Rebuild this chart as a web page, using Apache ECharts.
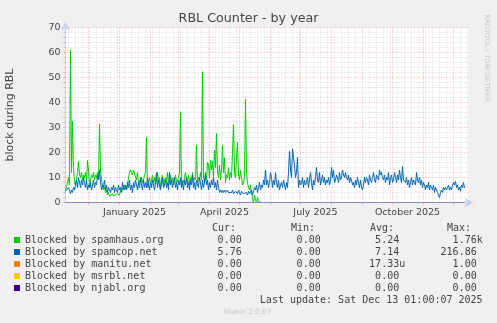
<!DOCTYPE html>
<html><head><meta charset="utf-8">
<script src="https://cdn.jsdelivr.net/npm/echarts@6/dist/echarts.min.js"></script>
<style>html,body{margin:0;padding:0;background:#f0f0f0}#c{width:497px;height:323px}</style>
</head><body><div id="c"></div>
<script>
// ---------- data ----------
const startDate = '2024-11-08';
const dayCount = 404;
const seriesNames = ['Blocked by spamhaus.org','Blocked by spamcop.net','Blocked by manitu.net','Blocked by msrbl.net','Blocked by njabl.org'];
const seriesColors = ['#00CC00','#0066B3','#FF8000','#FFCC00','#330099'];
const tickDates = ['2025-01-16','2025-04-16','2025-07-16','2025-10-16'];
const tickLabels = ['January 2025','April 2025','July 2025','October 2025'];
const yTicks = [0,10,20,30,40,50,60,70];
const statHeaders = ['Cur:','Min:','Avg:','Max:'];
const statValues = [
  ['0.00','0.00','5.24','1.76k'],
  ['5.76','0.00','7.14','216.86'],
  ['0.00','0.00','17.33u','1.00'],
  ['0.00','0.00','0.00','0.00'],
  ['0.00','0.00','0.00','0.00']
];
const lastUpdate = 'Last update: Sat Dec 13 01:00:07 2025';
const spamhaus = [
5,6,8,10,7,61,12,32.5,14,8,
7,9,12,16.5,11,10,12,9,11,10,
12,8,16.8,13,6,9,11,10,12,9,
11,10,12,9,31.5,13,9,7,5,6,
4,5,3,4,2.5,3,2,3.5,2.5,3,
2,3.5,3,4,3,5,4,6,5,7,
6,5,7,10,12,13,12.5,11,13,12,
10,9,12,7,9,8,10,8,9,11,
12,26,6,8,10,7,9,11,8,10,
7,9,12,8,10,6,9,11,7,9,
10,8,12,7,9,11,8,10,7,9,
11,8,9,10,12,36.3,7,9,8,10,
12,9,8,11,7,10,9,12,8,10,
9,23,8,10,9,12,9,52.3,10,8,
12,9,16,15,10,17,13,16.5,10,21,
14,27.6,12,10,15,9,13,23,12,18,
8,11,10,14,9,12,10,20,31.2,12,
10,18,24,11,9,13,10,7,8,10,
41.2,12,8,6,5,7,4,2,0,3,
1,0,2,0.5,0,0,0,0,0,0,
0,0,0,0,0,0,0,0,0,0,0,0,0,0,0,0,0,0,0,0,0,0,0,0,0,0,0,0,0,0,0,0,0,0,0,0,0,0,0,0,
0,0,0,0,0,0,0,0,0,0,0,0,0,0,0,0,0,0,0,0,0,0,0,0,0,0,0,0,0,0,0,0,0,0,0,0,0,0,0,0,
0,0,0,0,0,0,0,0,0,0,0,0,0,0,0,0,0,0,0,0,0,0,0,0,0,0,0,0,0,0,0,0,0,0,0,0,0,0,0,0,
0,0,0,0,0,0,0,0,0,0,0,0,0,0,0,0,0,0,0,0,0,0,0,0,0,0,0,0,0,0,0,0,0,0,0,0,0,0,0,0,
0,0,0,0,0,0,0,0,0,0,0,0,0,0,0,0,0,0,0,0,0,0,0,0,0.6,0,0,0,0,0,0,0,0,0,0,0,0,0,0,0
];
const spamcop = [
4.5,5,4,6,5,3.5,5,4,6,5,
7,9,6,10,8,6,9,7,10,8,
6,9,5,7,6,8,5,7,9,6,
8,7,11,9,13,8,5,7,6,9,
5,7,4,6,5,4,6,5,7,4,
6,5,4,7,5,6,4,8,6,5,
7,5,8,6,9,5,7,4,8,6,
9,7,5,8,6,10,7,5,9,6,
8,6,10,7,5,8,6,9,7,5,
8,12,6,9,7,5,8,10,6,7,
9,6,8,5,12,7,9,6,8,10,
6,8,5,9,7,10,6,8,5,9,
7,10,6,8,5,9,7,11,6,8,
5,9,7,6,10,8,5,9,6,8,
11,7,9,5,8,6,9,7,10,6,
8,5,9,6,4,5,4,5,4,5,
4,3.5,5,4,4.5,3.5,4,5,3.5,4,
4.5,4,3.5,5,4,3,4.5,4,3.5,4,
3.5,4,3,4.5,3.5,4,5,3,4.5,6,
5,7,4,6,8,5,7,6,9,7,
13,7,9,6,8,12,10,6,9,7,
12,8,6,9,5,7,8,6,9,7,
5,8,6,12,20.5,13,10,21.5,18,15,
10,12,18,6,9,7,8,10,6,9,
7,8,10,6,9,12,8,5,9,7,
10,14,9,8,12,7,9,11,8,10,
7,9,8,10,7,9,14,10,13,8,
9,11,10,8,12,9,10,13,11,10,
12,10,9,11,8,10,9,7,8,6,
9,7,10,8,6,9,6,5,7,10,
8,10,9,7,11,9,8,10,12,9,
8,11,10,9,13,11,12,10,9,11,
8,10,9,12,7,10,11,8,9,12,
10,8,11,9,13,10,8,14.5,9,9,
8,10,7,9,6,8,10,7,9,8,
7,12,9,8,10,7,9,6,8,7,
5,7,6,8,5,7,6,5,7,4,
6,5,4,3,2,4,5,4,6,5,
6,5,6,7,5,6,5,7,8,7,
8.5,6,7,5,6,4.5,7,6,8,5.76
];
const manitu = [
0,0,0,0,0,0,0,0,0,0,0,0,0,0,0,0,0,0,0,0,0,0,0,0,0,0,0,0,0,0,0,0,0,0,0,0,0,0,0,0,0,0,0,0,0,0,0,0,0,0,
0,0,0,0,0,0,0,0,0,0,0,0,0,0,0,0,0,0,0,0,0,0,0,0,0,0,0,0,0,0,0,0,0,0,0,0,0,0,0,0,0,0,0,0,0,0,0,0,0,0,
0,0,0,0,0,0,0,0,0,0,0,0,0,0,0,0,0,0,0,0,0,0,0,0,0,0,0,0,0,0,0,0,0,0,0,0,0,0,0,0,0,0,0,0,0,0,0,0,0,0,
0,0,0,0,0,0,0,0,0,0,0,0,0,0,0,0,0,0,0,0,0,0,0,0,0,0,0,0,0,0,0,0,0,0,0,0,0,0,0,0,0,0,0,0,0,0,0,0,0,0,
0,0,0,0,0,0,0,0,0,0,0,0,0,0,0,0,0,0,0,0,0,0,0,0,0,0,0,0,0,0,0,0,0,0,0,0,0,0,0,0,0,0,0,0,0,0,0,0,0,0,
0,0,0,0,0,0,0,0,0,0,0,0,0,0,0,0,0,0,0,0,0,0,0,0,0,0,0,0,0,0,0,0,0,0,0,0,0,0,0,0,0,0,0,0,0,0,0,0,0,0,
0,0,0,0,0,0,0,0,0,0,0,0,0,0,0,0,0,0,0,0,0,0,0,0,0,0,0,0,0,0,0,0,0,0,0,0,0,0,0,0,0,0,0,0,0,0,0,0,0,0,
0,0,0,0,0,0,0,0,0,0,0,0,0,0,0,0,0,0,0,0,0,0,0,0,0,0,0,0,0,0,0,0,0,0,0,0,0,0,0,0,0,0,0,0,0,0,0,0,0,0
];
const msrbl = manitu.slice();
const njabl = manitu.slice();
// ---------- chart ----------
const categories = [];
(function(){
  const d0 = new Date(startDate + 'T00:00:00Z');
  for (let i = 0; i < dayCount; i++) {
    const d = new Date(d0.getTime() + i * 86400000);
    categories.push(d.toISOString().slice(0, 10));
  }
})();
const isMonthStart = v => v.slice(8) === '01';
const isMonday = v => new Date(v + 'T00:00:00Z').getUTCDay() === 1;
const SANS = 'DejaVu Sans';
const MONO = 'DejaVu Sans Mono';
const txt = '#444';
const mgrid = 'rgba(235,110,110,0.55)';
const grid = 'rgba(128,128,128,0.3)';
const axisCol = '#C8D0F6';
const allData = [spamhaus, spamcop, manitu, msrbl, njabl];
const lineColors = ['#00CC00','#0066B3','#FF8000','#FFCC00','#8580d8'];

const chart = echarts.init(document.getElementById('c'), null, {renderer: 'canvas'});
const graphics = [];
const colLeft = [212, 291, 370, 447];
const colRight = [241.7, 320.7, 399.2, 476.7];
statHeaders.forEach((h, j) => graphics.push({type:'text', x: colLeft[j], y: 228, silent:true,
  style:{text:h, font:'10px ' + MONO, fill:txt, align:'left', verticalAlign:'middle'}}));
statValues.forEach((row, r) => row.forEach((v, j) => {
  const unit = /[a-zA-Z]$/.test(v);
  graphics.push({type:'text', x: colRight[j] + (unit ? 6.02 : 0), y: 240 + r * 12, silent:true,
    style:{text:v, font:'10px ' + MONO, fill:txt, align:'right', verticalAlign:'middle'}});
}));
graphics.push({type:'text', x: 482.6, y: 300, silent:true,
  style:{text:lastUpdate, font:'10px ' + MONO, fill:txt, align:'right', verticalAlign:'middle'}});
graphics.push({type:'text', x: 247.5, y: 312, silent:true,
  style:{text:'Munin 2.0.67', font:'7.3px ' + SANS, fill:'#c8c8c8', align:'center', verticalAlign:'middle'}});
graphics.push({type:'text', x: 487, y: 58, rotation: -Math.PI / 2, silent:true,
  style:{text:'RRDTOOL / TOBI OETIKER', font:'6.8px ' + SANS, fill:'#c8c8c8', align:'center', verticalAlign:'middle'}});

chart.setOption({
  animation: false,
  backgroundColor: '#f0f0f0',
  title: {text:'RBL Counter - by year', left:'center', top:12, padding:0,
    textStyle:{fontFamily:SANS, fontSize:12.7, fontWeight:'normal', color:txt}},
  grid: {left:65.5, top:27.5, width:403, height:175, show:true, backgroundColor:'#ffffff', borderWidth:0,
    containLabel:false, outerBoundsMode:'none'},
  legend: {orient:'vertical', left:14, top:234, itemGap:0, itemWidth:6, itemHeight:6, icon:'rect', padding:0,
    selectedMode:false,
    textStyle:{fontFamily:MONO, fontSize:10, color:txt, lineHeight:12},
    data: seriesNames.map((n, k) => ({name:n, itemStyle:{color:seriesColors[k]}}))},
  xAxis: [{
    type:'category', data:categories, boundaryGap:false,
    axisLine:{show:true, lineStyle:{color:axisCol, width:1}, symbol:['none','arrow'], symbolSize:[7,9], symbolOffset:[0,5]},
    axisTick:{show:true, interval:(i, v) => isMonthStart(v), length:2, lineStyle:{color:mgrid}},
    axisLabel:{interval:(i, v) => tickDates.indexOf(v) >= 0, formatter:v => tickLabels[tickDates.indexOf(v)] || '',
      fontFamily:SANS, fontSize:9.5, color:txt, margin:5, hideOverlap:false},
    splitLine:{show:true, interval:(i, v) => isMonthStart(v), lineStyle:{color:mgrid, type:[1,2], width:1}}
  },{
    type:'category', data:categories, boundaryGap:false, position:'bottom',
    axisLine:{show:false}, axisTick:{show:false}, axisLabel:{show:false},
    splitLine:{show:true, interval:(i, v) => isMonday(v) && !isMonthStart(v), lineStyle:{color:grid, type:[1,2], width:1}}
  }],
  yAxis: {
    type:'value', min:yTicks[0], max:yTicks[yTicks.length - 1], interval:10,
    name:'block during RBL', nameLocation:'middle', nameGap:50, nameRotate:90,
    nameTextStyle:{fontFamily:SANS, fontSize:11, color:txt},
    axisLine:{show:true, lineStyle:{color:axisCol, width:1}, symbol:['none','arrow'], symbolSize:[7,9], symbolOffset:[0,6]},
    axisTick:{show:true, length:2, lineStyle:{color:mgrid}},
    minorTick:{show:true, splitNumber:5, length:2, lineStyle:{color:'#c0c0c0'}},
    axisLabel:{fontFamily:SANS, fontSize:9.5, color:txt, margin:5},
    splitLine:{show:true, lineStyle:{color:mgrid, type:[1,2], width:1}},
    minorSplitLine:{show:true, lineStyle:{color:grid, type:[1,2], width:1}}
  },
  graphic: graphics,
  series: seriesNames.map((n, k) => ({
    name:n, type:'line', data:allData[k], xAxisIndex:0, yAxisIndex:0,
    showSymbol:false, symbol:'none', silent:true,
    lineStyle:{color:lineColors[k], width:1},
    itemStyle:{color:seriesColors[k]},
    emphasis:{disabled:true}, z:2 + k
  }))
});
</script>
</body></html>
